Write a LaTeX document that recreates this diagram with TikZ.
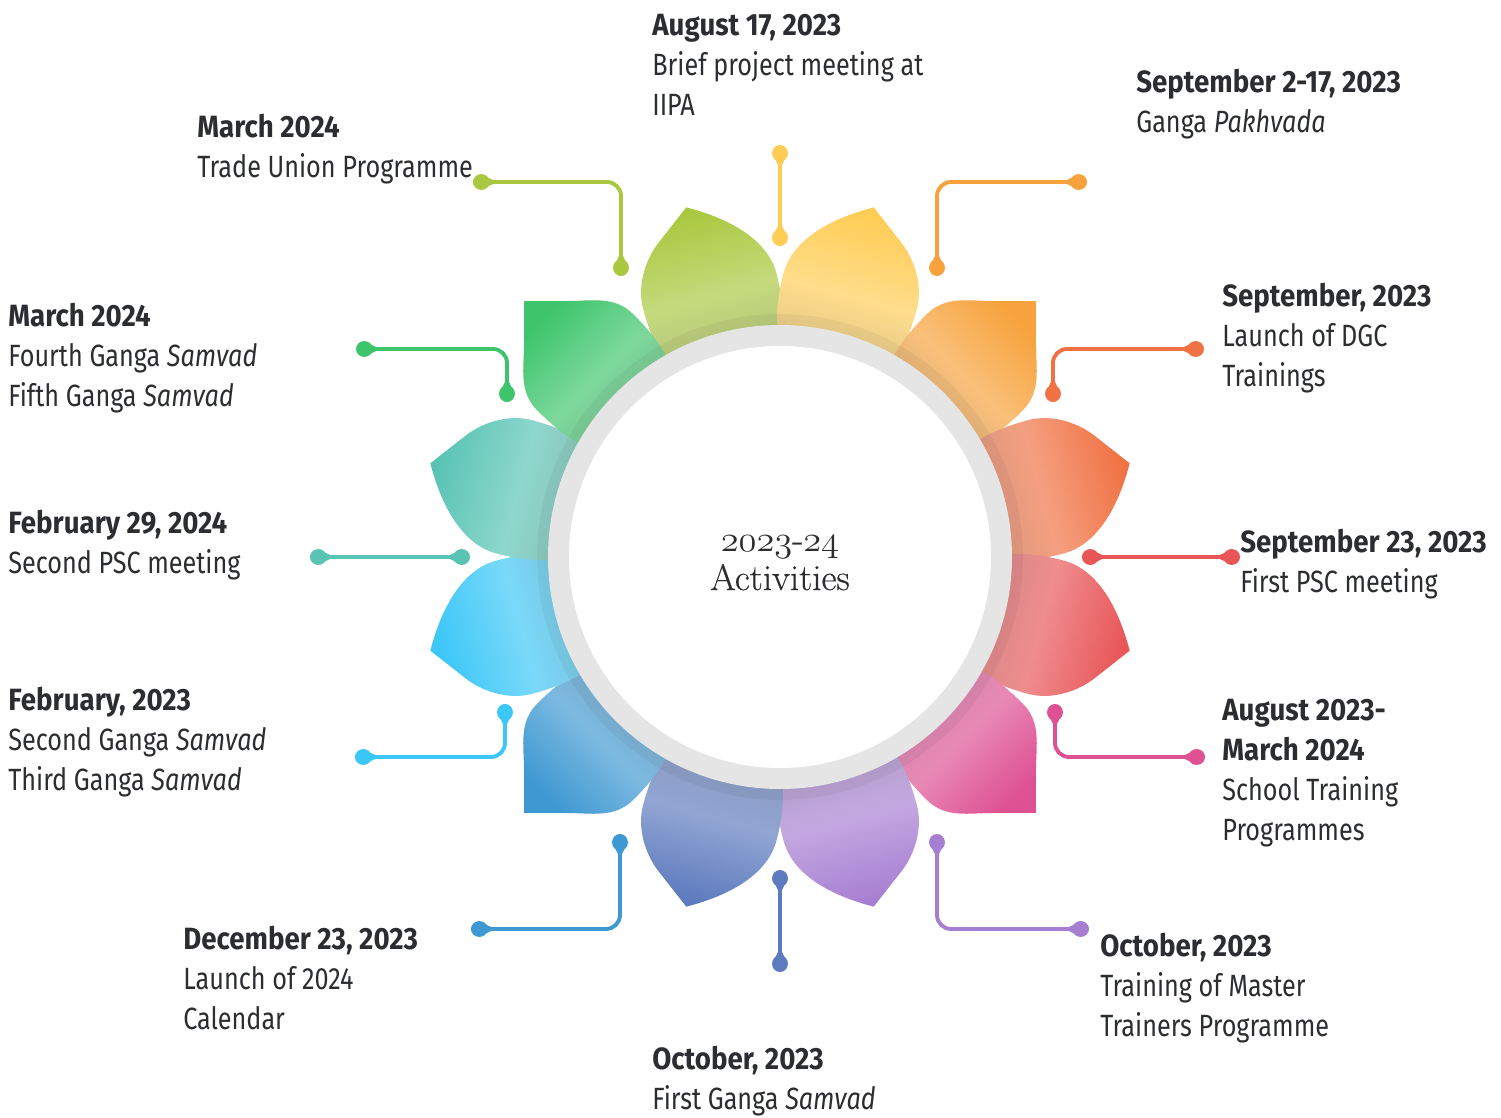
\documentclass[tikz,border=0pt]{standalone}
\usepackage{fontspec}
\setmainfont{Fira Sans}[UprightFeatures={FakeStretch=0.82}, ItalicFeatures={FakeStretch=0.82}, BoldFeatures={FakeStretch=0.9}]
\newfontfamily\centrefont{Latin Modern Roman}[FakeBold=0.4]
\usetikzlibrary{arrows.meta}

\definecolor{ink}{HTML}{2B2D31}
\definecolor{leafYG}{HTML}{AAC83F}
\definecolor{leafYel}{HTML}{FFCD55}
\definecolor{leafOrg}{HTML}{F7A23C}
\definecolor{leafOrd}{HTML}{F07244}
\definecolor{leafRed}{HTML}{E85658}
\definecolor{leafPnk}{HTML}{DE5193}
\definecolor{leafPur}{HTML}{A77FD2}
\definecolor{leafInd}{HTML}{5D7BBE}
\definecolor{leafBlu}{HTML}{3E98D2}
\definecolor{leafSky}{HTML}{3BC7F7}
\definecolor{leafTea}{HTML}{59C4B4}
\definecolor{leafGrn}{HTML}{3EC56B}

\pgfdeclareradialshading{hollow}{\pgfpoint{0bp}{0bp}}{color(0bp)=(white); color(43bp)=(white); color(48.5bp)=(black!7); color(50bp)=(black!18)}

\begin{document}
\begin{tikzpicture}[x=0.02cm, y=0.02cm,
    leaf/.style={top color=#1, bottom color=#1!60!gray!80!white, middle color=#1!68!white},
    leaf even/.style={insert path={(0,362) -- (30,332) .. controls (48,314) and (68,302) .. (68,275) .. controls (68,240) and (62,210) .. (45,190) -- (-45,190) .. controls (-62,210) and (-68,240) .. (-68,275) .. controls (-68,302) and (-48,314) .. (-30,332) -- cycle}},
    leaf skew/.style={insert path={(0,362) -- (36,335) .. controls (52,323) and (68,300) .. (68,275) .. controls (68,240) and (62,210) .. (45,190) -- (-45,190) .. controls (-62,210) and (-70,240) .. (-70,275) .. controls (-70,315) and (-30,345) .. cycle}},
    link/.style={#1, line width=2.2pt, <->, >={Triangle[reversed, length=7pt, width=6pt, sep=-2.5pt] Circle[length=9.5pt, width=9pt]}, rounded corners=8pt}]
        \tikzstyle{every node}=[font=\fontsize{17.5}{22.7}\selectfont, text=ink, align=left, inner sep=0pt]
        \useasboundingbox (-780,-560) rectangle (721,557);
        % petals
        \shade [leaf=leafYG, rotate=15, xscale=-1, shading angle=15, leaf skew];
        \shade [leaf=leafYel, rotate=-15, shading angle=-15, leaf skew];
        \shade [leaf=leafOrg, rotate=-45, shading angle=-45, leaf even];
        \shade [leaf=leafOrd, rotate=-75, xscale=-1, shading angle=-75, leaf skew];
        \shade [leaf=leafRed, rotate=-105, shading angle=-105, leaf skew];
        \shade [leaf=leafPnk, rotate=-135, shading angle=-135, leaf even];
        \shade [leaf=leafPur, rotate=-165, xscale=-1, shading angle=-165, leaf skew];
        \shade [leaf=leafInd, rotate=165, shading angle=165, leaf skew];
        \shade [leaf=leafBlu, rotate=135, shading angle=135, leaf even];
        \shade [leaf=leafSky, rotate=105, xscale=-1, shading angle=105, leaf skew];
        \shade [leaf=leafTea, rotate=75, shading angle=75, leaf skew];
        \shade [leaf=leafGrn, rotate=45, shading angle=45, leaf even];
        % ring
        \fill [black, opacity=0.04] (0,0) circle (243);
        \fill [black!10] (0,0) circle (232);
        \shade [shading=hollow] (0,0) circle (211);
        \node [font=\centrefont\fontsize{21}{22}\selectfont, align=center] (centre) at (0,-6) {$\mathnormal{2023}$-$\mathnormal{24}$\\Activities};
        % connectors
        \coordinate (p90a) at (0,311);
        \coordinate (p90b) at (0,412);
        \coordinate (p60a) at (157,281);
        \coordinate (p60b) at (307,375);
        \coordinate (p30a) at (273,155);
        \coordinate (p30b) at (424,208);
        \coordinate (p0a) at (302,0);
        \coordinate (p0b) at (460,0);
        \coordinate (m30a) at (275,-147);
        \coordinate (m30b) at (425,-200);
        \coordinate (m60a) at (157,-277);
        \coordinate (m60b) at (309,-372);
        \coordinate (m90a) at (0,-313);
        \coordinate (m90b) at (0,-415);
        \coordinate (m120a) at (-160,-277);
        \coordinate (m120b) at (-309,-372);
        \coordinate (m150a) at (-275,-147);
        \coordinate (m150b) at (-425,-200);
        \coordinate (p180a) at (-310,0);
        \coordinate (p180b) at (-470,0);
        \coordinate (p150a) at (-273,155);
        \coordinate (p150b) at (-424,208);
        \coordinate (p120a) at (-159,281);
        \coordinate (p120b) at (-307,375);
        \draw [link=leafYel] (p90a) -- (p90b);
        \draw [link=leafOrg] (p60a) |- (p60b);
        \draw [link=leafOrd] (p30a) |- (p30b);
        \draw [link=leafRed] (p0a) -- (p0b);
        \draw [link=leafPnk] (m30a) |- (m30b);
        \draw [link=leafPur] (m60a) |- (m60b);
        \draw [link=leafInd] (m90a) -- (m90b);
        \draw [link=leafBlu] (m120a) |- (m120b);
        \draw [link=leafSky] (m150a) |- (m150b);
        \draw [link=leafTea] (p180a) -- (p180b);
        \draw [link=leafGrn] (p150a) |- (p150b);
        \draw [link=leafYG] (p120a) |- (p120b);
        % labels
        \node [anchor=north west] (augA) at (-128,543) {\textbf{August 17, 2023}\\Brief project meeting at\\IIPA};
        \node [anchor=north west] (sepA) at (356,488) {\textbf{September 2-17, 2023}\\Ganga \textit{Pakhvada}};
        \node [anchor=north west] (sepB) at (442,274) {\textbf{September, 2023}\\Launch of DGC\\Trainings};
        \node [anchor=north west] (sepC) at (460,28) {\textbf{September 23, 2023}\\First PSC meeting};
        \node [anchor=north west] (augB) at (442,-142) {\textbf{August 2023-}\\\textbf{March 2024}\\School Training\\Programmes};
        \node [anchor=north west] (octA) at (320,-376) {\textbf{October, 2023}\\Training of Master\\Trainers Programme};
        \node [anchor=north west] (octB) at (-128,-489) {\textbf{October, 2023}\\First Ganga \textit{Samvad}};
        \node [anchor=north west] (decA) at (-597,-369) {\textbf{December 23, 2023}\\Launch of 2024\\Calendar};
        \node [anchor=north west] (febA) at (-772,-130) {\textbf{February, 2023}\\Second Ganga \textit{Samvad}\\Third Ganga \textit{Samvad}};
        \node [anchor=north west] (febB) at (-772,47) {\textbf{February 29, 2024}\\Second PSC meeting};
        \node [anchor=north west] (marA) at (-772,254) {\textbf{March 2024}\\Fourth Ganga \textit{Samvad}\\Fifth Ganga \textit{Samvad}};
        \node [anchor=north west] (marB) at (-583,443) {\textbf{March 2024}\\Trade Union Programme};
    \end{tikzpicture}
\end{document}
